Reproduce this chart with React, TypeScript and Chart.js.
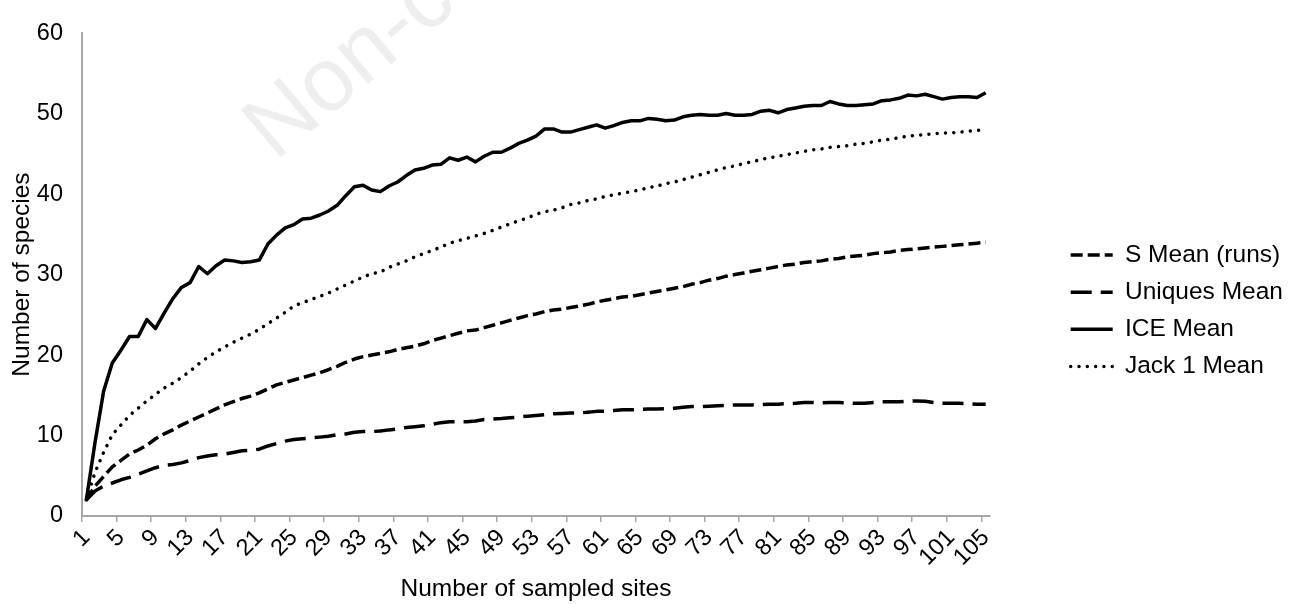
import { useEffect, useRef } from 'react';
import { Chart, registerables } from 'chart.js';

Chart.register(...registerables);

// Number of sampled sites (categories)
const sites = [
  1, 2, 3, 4, 5, 6, 7, 8, 9, 10, 11, 12, 13, 14, 15, 16, 17, 18, 19, 20,
  21, 22, 23, 24, 25, 26, 27, 28, 29, 30, 31, 32, 33, 34, 35, 36, 37, 38, 39, 40,
  41, 42, 43, 44, 45, 46, 47, 48, 49, 50, 51, 52, 53, 54, 55, 56, 57, 58, 59, 60,
  61, 62, 63, 64, 65, 66, 67, 68, 69, 70, 71, 72, 73, 74, 75, 76, 77, 78, 79, 80,
  81, 82, 83, 84, 85, 86, 87, 88, 89, 90, 91, 92, 93, 94, 95, 96, 97, 98, 99, 100,
  101, 102, 103, 104, 105,
];

const sMeanRuns = [
  2.0, 3.7, 4.9, 6.1, 6.9, 7.7, 8.2, 8.8, 9.6, 10.2,
  10.7, 11.3, 11.8, 12.3, 12.8, 13.3, 13.8, 14.2, 14.6, 14.9,
  15.3, 15.8, 16.3, 16.6, 16.9, 17.2, 17.5, 17.8, 18.2, 18.6,
  19.1, 19.5, 19.8, 20.0, 20.2, 20.4, 20.7, 20.9, 21.1, 21.4,
  21.8, 22.1, 22.4, 22.7, 23.0, 23.1, 23.4, 23.7, 24.0, 24.3,
  24.6, 24.9, 25.1, 25.4, 25.6, 25.7, 25.9, 26.1, 26.3, 26.6,
  26.8, 27.0, 27.2, 27.3, 27.5, 27.7, 27.9, 28.1, 28.3, 28.5,
  28.8, 29.0, 29.3, 29.5, 29.8, 30.0, 30.2, 30.4, 30.6, 30.8,
  31.0, 31.2, 31.3, 31.5, 31.6, 31.7, 31.9, 32.0, 32.2, 32.3,
  32.4, 32.6, 32.7, 32.8, 33.0, 33.1, 33.2, 33.3, 33.4, 33.5,
  33.6, 33.7, 33.8, 33.9, 34.0,
];

const uniquesMean = [
  2.0, 3.1, 3.7, 4.1, 4.5, 4.8, 5.2, 5.6, 6.0, 6.3,
  6.4, 6.6, 6.9, 7.25, 7.45, 7.6, 7.7, 7.9, 8.1, 8.15,
  8.3, 8.7, 9.0, 9.3, 9.5, 9.6, 9.7, 9.8, 9.9, 10.1,
  10.2, 10.4, 10.5, 10.5, 10.55, 10.7, 10.8, 11.0, 11.1, 11.2,
  11.4, 11.6, 11.7, 11.7, 11.7, 11.8, 12.0, 12.05, 12.1, 12.2,
  12.3, 12.4, 12.5, 12.6, 12.7, 12.75, 12.8, 12.8, 12.9, 13.0,
  13.0, 13.1, 13.2, 13.2, 13.25, 13.3, 13.3, 13.35, 13.4, 13.5,
  13.6, 13.6, 13.65, 13.7, 13.75, 13.8, 13.8, 13.8, 13.85, 13.9,
  13.9, 13.95, 14.0, 14.1, 14.1, 14.05, 14.1, 14.1, 14.05, 14.0,
  14.0, 14.1, 14.2, 14.2, 14.2, 14.25, 14.3, 14.25, 14.1, 14.0,
  14.0, 14.0, 13.95, 13.9, 13.9,
];

const iceMean = [
  2.0, 9.1, 15.5, 19.0, 20.6, 22.3, 22.3, 24.4, 23.3, 25.2,
  27.0, 28.4, 29.0, 31.0, 30.1, 31.1, 31.8, 31.7, 31.5, 31.6,
  31.8, 33.8, 34.9, 35.8, 36.2, 36.9, 37.0, 37.4, 37.9, 38.6,
  39.8, 40.9, 41.1, 40.5, 40.3, 41.0, 41.5, 42.3, 43.0, 43.2,
  43.6, 43.7, 44.5, 44.2, 44.6, 44.0, 44.7, 45.2, 45.2, 45.7,
  46.3, 46.7, 47.2, 48.1, 48.1, 47.7, 47.7, 48.0, 48.3, 48.6,
  48.2, 48.5, 48.9, 49.1, 49.1, 49.4, 49.3, 49.1, 49.2, 49.6,
  49.8, 49.9, 49.8, 49.8, 50.0, 49.8, 49.8, 49.9, 50.3, 50.4,
  50.1, 50.5, 50.7, 50.9, 51.0, 51.0, 51.5, 51.2, 51.0, 51.0,
  51.1, 51.2, 51.6, 51.7, 51.9, 52.3, 52.2, 52.4, 52.1, 51.8,
  52.0, 52.1, 52.1, 52.0, 52.6,
];

const jack1Mean = [
  2.0, 5.4, 7.9, 10.1, 11.3, 12.5, 13.4, 14.3, 15.1, 15.9,
  16.5, 17.2, 18.0, 18.9, 19.7, 20.4, 21.0, 21.6, 22.1, 22.6,
  23.2, 23.9, 24.6, 25.3, 26.1, 26.5, 26.9, 27.3, 27.7, 28.2,
  28.7, 29.2, 29.7, 30.1, 30.3, 30.9, 31.3, 31.7, 32.2, 32.6,
  33.0, 33.4, 33.9, 34.2, 34.5, 34.8, 35.1, 35.5, 35.9, 36.3,
  36.7, 37.0, 37.5, 37.8, 38.0, 38.3, 38.7, 38.9, 39.2, 39.4,
  39.7, 39.9, 40.1, 40.3, 40.5, 40.8, 41.0, 41.3, 41.5, 41.8,
  42.1, 42.4, 42.7, 43.0, 43.3, 43.5, 43.8, 44.0, 44.3, 44.5,
  44.7, 44.9, 45.1, 45.3, 45.5, 45.6, 45.8, 45.9, 46.0, 46.2,
  46.3, 46.5, 46.7, 46.8, 47.0, 47.2, 47.3, 47.4, 47.5, 47.6,
  47.6, 47.7, 47.8, 47.9, 48.0,
];

const seriesLabels = ['S Mean (runs)', 'Uniques Mean', 'ICE Mean', 'Jack 1 Mean'];
const yMin = 0;
const yMax = 60;
const yStep = 10;
const xLabelEvery = 4;
const xTitle = 'Number of sampled sites';
const yTitle = 'Number of species';
const watermarkText = 'Non-commercial use only';

const FONT = '"Liberation Sans", Arial, Helvetica, sans-serif';
const AXIS_GRAY = '#a6a6a6';
const INK = '#000000';
const LINE_W = 3.5;

export default function App() {
  const canvasRef = useRef<HTMLCanvasElement | null>(null);

  useEffect(() => {
    const canvas = canvasRef.current;
    if (!canvas) return;

    const legendPlace = {
      id: 'legendPlace',
      afterLayout(chart: any) {
        const l = chart.legend;
        if (!l) return;
        const h = l.height;
        l.left = 1058;
        l.right = 1295;
        l.top = 230;
        l.bottom = 230 + h;
      },
    };

    const watermark = {
      id: 'watermark',
      beforeDraw(chart: any) {
        const c = chart.ctx;
        c.save();
        c.translate(275, 162);
        c.rotate((-40 * Math.PI) / 180);
        c.font = `90px ${FONT}`;
        c.fillStyle = 'rgba(0,0,0,0.065)';
        c.textBaseline = 'alphabetic';
        c.textAlign = 'left';
        c.fillText(watermarkText, 0, 0);
        c.restore();
      },
    };

    const styles = [
      { borderDash: [12, 5], borderCapStyle: 'butt' },
      { borderDash: [21, 9], borderCapStyle: 'butt' },
      { borderDash: [], borderCapStyle: 'butt' },
      { borderDash: [0.01, 8.3], borderCapStyle: 'round' },
    ];
    const values = [sMeanRuns, uniquesMean, iceMean, jack1Mean];

    const chart = new Chart(canvas, {
      type: 'line',
      data: {
        labels: sites.map(String),
        datasets: values.map((d, i) => ({
          label: seriesLabels[i],
          data: d,
          borderColor: INK,
          backgroundColor: INK,
          borderWidth: LINE_W,
          borderDash: styles[i].borderDash,
          borderCapStyle: styles[i].borderCapStyle as any,
          borderJoinStyle: 'round' as any,
          pointRadius: 0,
          pointHoverRadius: 0,
          tension: 0,
          fill: false,
        })),
      },
      options: {
        animation: false,
        responsive: true,
        maintainAspectRatio: false,
        layout: { padding: { left: 0, right: 105, top: 25, bottom: 0 } },
        plugins: {
          tooltip: { enabled: false },
          legend: {
            display: true,
            position: 'right',
            align: 'start',
            maxWidth: 200,
            labels: {
              usePointStyle: true,
              pointStyle: 'line',
              pointStyleWidth: 42,
              padding: 12.7,
              color: INK,
              font: { family: FONT, size: 24.5 },
              generateLabels: (ch: any) =>
                ch.data.datasets.map((ds: any, i: number) => ({
                  text: ds.label,
                  fillStyle: INK,
                  strokeStyle: INK,
                  fontColor: INK,
                  lineWidth: LINE_W,
                  lineDash: ds.borderDash,
                  lineCap: ds.borderCapStyle,
                  lineJoin: 'miter',
                  pointStyle: 'line',
                  hidden: false,
                  datasetIndex: i,
                })),
            },
          },
        },
        scales: {
          x: {
            type: 'category',
            offset: true,
            afterFit: (s: any) => {
              s.height = 88;
            },
            border: { display: true, color: AXIS_GRAY, width: 2 },
            grid: {
              display: true,
              drawOnChartArea: false,
              drawTicks: true,
              offset: true,
              tickLength: 6,
              lineWidth: 1.5,
              tickColor: (ctx: any) =>
                typeof ctx.index === 'number' && ctx.index % xLabelEvery === 0 ? AXIS_GRAY : 'rgba(0,0,0,0)',
            },
            ticks: {
              autoSkip: false,
              minRotation: 45,
              maxRotation: 45,
              padding: 2,
              color: INK,
              font: { family: FONT, size: 23.5 },
              callback: (_v: any, i: number) => (i % xLabelEvery === 0 ? String(sites[i]) : ''),
            },
            title: {
              display: true,
              text: xTitle,
              color: INK,
              font: { family: FONT, size: 24.5 },
              padding: { top: 0, bottom: 0 },
            },
          },
          y: {
            type: 'linear',
            min: yMin,
            max: yMax,
            afterFit: (s: any) => {
              s.width = 82;
            },
            border: { display: true, color: AXIS_GRAY, width: 2 },
            grid: { display: true, drawOnChartArea: false, drawTicks: false },
            ticks: {
              stepSize: yStep,
              padding: 19,
              color: INK,
              font: { family: FONT, size: 23.5 },
            },
            title: {
              display: true,
              text: yTitle,
              color: INK,
              font: { family: FONT, size: 24.5 },
              padding: { top: 8, bottom: 0 },
            },
          },
        },
      },
      plugins: [legendPlace, watermark],
    });

    return () => {
      chart.destroy();
    };
  }, []);

  return (
    <div
      style={{
        position: 'fixed',
        left: 0,
        top: 0,
        width: 1295,
        height: 604,
        background: '#ffffff',
      }}
    >
      <canvas ref={canvasRef} />
    </div>
  );
}
